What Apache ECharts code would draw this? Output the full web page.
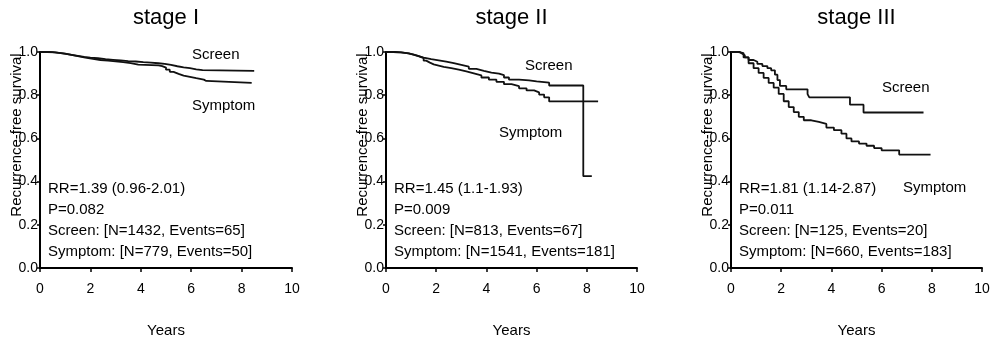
<!DOCTYPE html>
<html>
<head>
<meta charset="utf-8">
<script src="https://cdn.jsdelivr.net/npm/echarts@6/dist/echarts.min.js"></script>
<style>
html,body{margin:0;padding:0;background:#fff;}
#c{width:995px;height:343px;}
</style>
</head>
<body>
<div id="c"></div>
<script>
// ---- Data (Kaplan-Meier step values: time in years, recurrence-free survival) ----
var panelTitles = ['stage I', 'stage II', 'stage III'];
var xTicks = [0, 2, 4, 6, 8, 10];
var yTicks = [0.0, 0.2, 0.4, 0.6, 0.8, 1.0];

var s1ScreenT = [0, 0.25, 0.5, 0.75, 1.0, 1.25, 1.5, 1.75, 2.0, 2.3, 2.6, 2.9, 3.2, 3.5, 3.8, 4.1, 4.4, 4.7, 4.95, 5.2, 5.45, 5.7, 5.95, 6.2, 6.45, 8.5];
var s1ScreenS = [1.0, 0.999, 0.996, 0.992, 0.987, 0.982, 0.977, 0.974, 0.971, 0.967, 0.964, 0.961, 0.958, 0.956, 0.953, 0.951, 0.948, 0.945, 0.94, 0.934, 0.929, 0.925, 0.92, 0.916, 0.913, 0.913];
var s1SymptomT = [0, 0.3, 0.6, 0.9, 1.2, 1.5, 1.8, 2.1, 2.4, 2.7, 3.0, 3.3, 3.6, 3.9, 4.7, 4.85, 5.0, 5.15, 5.3, 5.5, 5.7, 5.95, 6.2, 6.5, 6.6, 8.4];
var s1SymptomS = [1.0, 0.998, 0.994, 0.988, 0.981, 0.974, 0.968, 0.963, 0.96, 0.957, 0.953, 0.948, 0.942, 0.938, 0.935, 0.928, 0.918, 0.908, 0.899, 0.891, 0.885, 0.879, 0.872, 0.866, 0.857, 0.857];

var s2ScreenT = [0, 0.3, 0.6, 0.9, 1.1, 1.3, 1.5, 1.8, 2.1, 2.4, 2.7, 3.0, 3.3, 3.6, 3.9, 4.2, 4.5, 4.7, 4.9, 5.3, 5.7, 6.0, 6.5, 7.86, 8.2];
var s2ScreenS = [1.0, 0.998, 0.994, 0.988, 0.981, 0.974, 0.967, 0.961, 0.955, 0.948, 0.94, 0.932, 0.922, 0.913, 0.905, 0.9, 0.893, 0.882, 0.872, 0.869, 0.864, 0.858, 0.845, 0.425, 0.425];
var s2SymptomT = [0, 0.3, 0.6, 0.9, 1.1, 1.3, 1.5, 1.6, 1.75, 1.9, 2.1, 2.3, 2.6, 2.9, 3.2, 3.5, 3.8, 4.1, 4.4, 4.7, 5.0, 5.3, 5.6, 5.9, 6.1, 6.3, 6.5, 8.45];
var s2SymptomS = [1.0, 0.998, 0.994, 0.988, 0.981, 0.972, 0.96, 0.951, 0.943, 0.937, 0.931, 0.925, 0.918, 0.91, 0.901, 0.892, 0.882, 0.872, 0.862, 0.851, 0.842, 0.832, 0.822, 0.813, 0.803, 0.79, 0.771, 0.771];

var s3ScreenT = [0, 0.35, 0.45, 0.55, 0.7, 0.9, 1.05, 1.25, 1.45, 1.6, 1.75, 1.85, 1.95, 2.2, 3.05, 3.12, 4.74, 5.28, 7.67];
var s3ScreenS = [1.0, 0.992, 0.985, 0.975, 0.963, 0.955, 0.945, 0.935, 0.925, 0.915, 0.895, 0.87, 0.843, 0.827, 0.805, 0.79, 0.756, 0.72, 0.72];
var s3SymptomT = [0, 0.3, 0.5, 0.7, 0.9, 1.1, 1.3, 1.5, 1.7, 1.9, 2.1, 2.3, 2.5, 2.7, 2.9, 3.2, 3.5, 3.8, 4.1, 4.4, 4.6, 4.8, 5.1, 5.4, 5.7, 6.0, 6.7, 7.95];
var s3SymptomS = [1.0, 0.995, 0.975, 0.948, 0.925, 0.903, 0.88, 0.857, 0.835, 0.806, 0.772, 0.745, 0.722, 0.7, 0.684, 0.676, 0.667, 0.65, 0.638, 0.622, 0.6, 0.586, 0.576, 0.566, 0.555, 0.545, 0.525, 0.525];

var annotations = [
  ['RR=1.39 (0.96-2.01)', 'P=0.082', 'Screen: [N=1432, Events=65]', 'Symptom: [N=779, Events=50]'],
  ['RR=1.45 (1.1-1.93)', 'P=0.009', 'Screen: [N=813, Events=67]', 'Symptom: [N=1541, Events=181]'],
  ['RR=1.81 (1.14-2.87)', 'P=0.011', 'Screen: [N=125, Events=20]', 'Symptom: [N=660, Events=183]']
];
var curveLabels = ['Screen', 'Symptom'];
var yAxisTitle = 'Recurrence-free survival';
var xAxisTitle = 'Years';

// ---- Layout ----
var grids = [
  {left: 40, top: 52, width: 252, height: 223},
  {left: 386, top: 52, width: 251, height: 224},
  {left: 731, top: 52, width: 251, height: 223}
];
var labelPos = [
  [[192, 55], [192, 106]],
  [[525, 66], [499, 133]],
  [[882, 88], [903, 188]]
];
var FONT = '"Liberation Sans", Arial, sans-serif';

function pairs(t, s) { return t.map(function (v, i) { return [v, s[i]]; }); }
var seriesData = [
  [pairs(s1ScreenT, s1ScreenS), pairs(s1SymptomT, s1SymptomS)],
  [pairs(s2ScreenT, s2ScreenS), pairs(s2SymptomT, s2SymptomS)],
  [pairs(s3ScreenT, s3ScreenS), pairs(s3SymptomT, s3SymptomS)]
];

var option = {
  backgroundColor: '#fff',
  animation: false,
  grid: [], xAxis: [], yAxis: [], series: [], graphic: []
};

grids.forEach(function (g, i) {
  option.grid.push({left: g.left, top: g.top, width: g.width, height: g.height, containLabel: false});
  option.graphic.push({
    type: 'text', x: g.left + g.width / 2, y: 18,
    style: {text: panelTitles[i], fontFamily: FONT, fontSize: 22, fill: '#000',
      textAlign: 'center', textVerticalAlign: 'middle'}
  });
  option.xAxis.push({
    type: 'value', gridIndex: i, min: xTicks[0], max: xTicks[xTicks.length - 1], interval: 2,
    name: xAxisTitle, nameLocation: 'middle', nameGap: 55,
    nameTextStyle: {fontFamily: FONT, fontSize: 15, color: '#000'},
    axisLine: {onZero: false, lineStyle: {color: '#000', width: 2}},
    axisTick: {show: true, length: 4, lineStyle: {color: '#000', width: 1.5}},
    axisLabel: {fontFamily: FONT, fontSize: 14, color: '#000', margin: 14},
    splitLine: {show: false}
  });
  option.yAxis.push({
    type: 'value', gridIndex: i, min: yTicks[0], max: yTicks[yTicks.length - 1], interval: 0.2,
    axisLine: {show: true, onZero: false, lineStyle: {color: '#000', width: 2}},
    axisTick: {show: true, length: 3, lineStyle: {color: '#000', width: 1.5}},
    axisLabel: {fontFamily: FONT, fontSize: 14, color: '#000', margin: 2,
      formatter: function (v) { return v.toFixed(1); }},
    splitLine: {show: false}
  });
  seriesData[i].forEach(function (d, k) {
    option.series.push({
      type: 'line', xAxisIndex: i, yAxisIndex: i, data: d, step: 'end',
      showSymbol: false, symbol: 'none', silent: true,
      lineStyle: {color: '#111', width: 1.8}
    });
  });
  option.graphic.push({
    type: 'text', x: g.left - 23, y: 135, rotation: Math.PI / 2,
    style: {text: yAxisTitle, fontFamily: FONT, fontSize: 15, fill: '#000',
      textAlign: 'center', textVerticalAlign: 'middle'}
  });
  option.graphic.push({
    type: 'text', x: g.left + 8, y: 178,
    style: {text: annotations[i].join('\n'), fontFamily: FONT, fontSize: 15, lineHeight: 21,
      fill: '#000', textAlign: 'left', textVerticalAlign: 'top'}
  });
  curveLabels.forEach(function (lab, k) {
    option.graphic.push({
      type: 'text', x: labelPos[i][k][0], y: labelPos[i][k][1],
      style: {text: lab, fontFamily: FONT, fontSize: 15, fill: '#000',
        textAlign: 'left', textVerticalAlign: 'middle'}
    });
  });
});

var chart = echarts.init(document.getElementById('c'), null, {renderer: 'canvas'});
chart.setOption(option);
</script>
</body>
</html>
